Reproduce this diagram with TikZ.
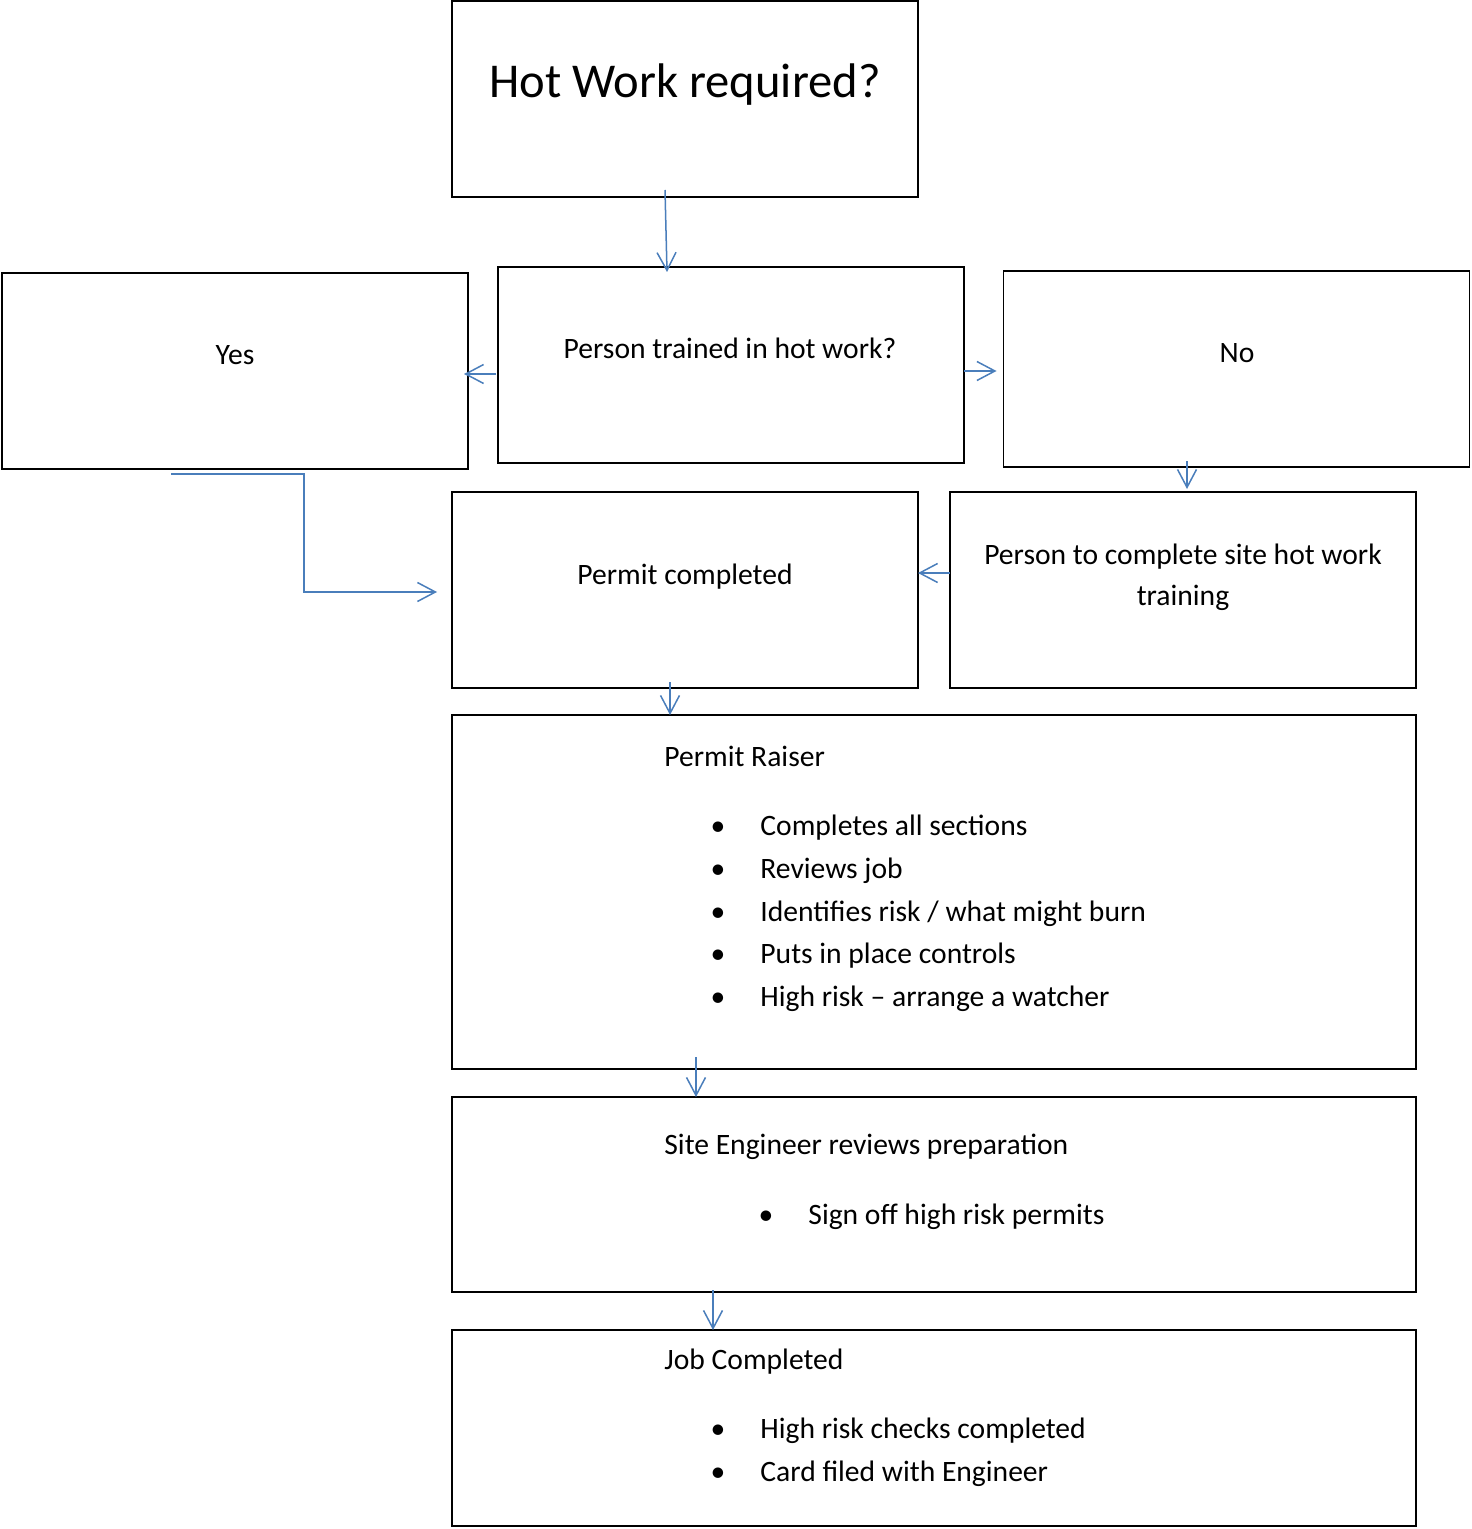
\documentclass[tikz,border=0pt]{standalone}
\usepackage{fontspec}
\setmainfont{Carlito}
\usepackage{xcolor}
\usepackage{tikz}
\usetikzlibrary{arrows.meta, calc}
\definecolor{flowblue}{RGB}{74,126,187}
\tikzset{
  box/.style={draw, line width=0.55pt, inner sep=0pt, outer sep=0pt, minimum width=233pt, minimum height=98pt},
  widebox/.style={draw, line width=0.55pt, inner sep=0pt, outer sep=0pt, minimum width=482pt},
  txt/.style={anchor=base, inner sep=0pt, font=\fontsize{14.8}{20.5}\selectfont},
  lefttxt/.style={txt, anchor=base west},
  bul/.style={txt},
  title/.style={anchor=base, inner sep=0pt, font=\fontsize{24.3}{28}\selectfont},
  flow/.style={-{Straight Barb[length=9pt, width=9.5pt, line width=0.75pt]}, line width=0.75pt, flowblue}
}

\begin{document}
\begin{tikzpicture}[x=0.5pt, y=-0.5pt]
    \useasboundingbox (0,0) rectangle (1471,1529);
    % boxes
    \node[box] (hot) at (685,99) {};
    \node[box] (trained) at (731,365) {};
    \node[box] (yes) at (235,371) {};
    \node[box] (no) at (1236.5,369) {};
    \node[box] (permit) at (685,590) {};
    \node[box] (training) at (1183,590) {};
    \node[widebox, minimum height=177pt] (raiser) at (934,892) {};
    \node[widebox, minimum height=97.5pt] (engineer) at (934,1194.5) {};
    \node[widebox, minimum height=98pt] (job) at (934,1428) {};
    % texts
    \node[title] (hotT) at (685,98) {Hot Work required?};
    \node[txt] (trainedT) at (730,359) {Person trained in hot work?};
    \node[txt] (yesT) at (235,365) {Yes};
    \node[txt] (noT) at (1237,363) {No};
    \node[txt] (permitT) at (685,584) {Permit completed};
    \node[txt, align=center] (trainingT) at (1183,605) {Person to complete site hot work\\training};
    \node[lefttxt] (raiserT) at (664,766) {Permit Raiser};
    \node[lefttxt] (engineerT) at (664,1154) {Site Engineer reviews preparation};
    \node[lefttxt] (jobT) at (664,1369) {Job Completed};
    \foreach \y/\t in {835/Completes all sections, 878/Reviews job, 921/{Identifies risk / what might burn},
                       963/Puts in place controls, 1006/High risk – arrange a watcher, 1438/High risk checks completed,
                       1481/Card filed with Engineer} {
      \node[bul] (b\y) at (718,\y) {•};
      \node[lefttxt] (i\y) at (760,\y) {\t};
    }
    \node[bul] (b1224) at (766,1224) {•};
    \node[lefttxt] (i1224) at (808,1224) {Sign off high risk permits};
    % connectors
    \draw[flow] ($(hot.south)+(-20,-7)$) -- ($(trained.north)+(-64,5)$);
    \draw[flow] ($(trained.west)+(-2,9)$) -- ($(yes.east)+(-4,3)$);
    \draw[flow] ($(trained.east)+(0,6)$) -- ($(no.west)+(-7,2)$);
    \draw[flow] ($(no.south)+(-49.5,-6)$) -- ($(training.north)+(4,-3)$);
    \draw[flow] ($(yes.south)+(-64,5)$) -- ++(133,0) |- ($(permit.west)+(-15,2)$);
    \draw[flow] ($(training.west)+(0,-17)$) -- ($(permit.east)+(0,-17)$);
    \draw[flow] ($(permit.south)+(-15,-6)$) -- ($(raiser.north)+(-264,0)$);
    \draw[flow] ($(raiser.south)+(-238,-12)$) -- ($(engineer.north)+(-238,0)$);
    \draw[flow] ($(engineer.south)+(-221,-2)$) -- ($(job.north)+(-221,0)$);
\end{tikzpicture}
\end{document}
